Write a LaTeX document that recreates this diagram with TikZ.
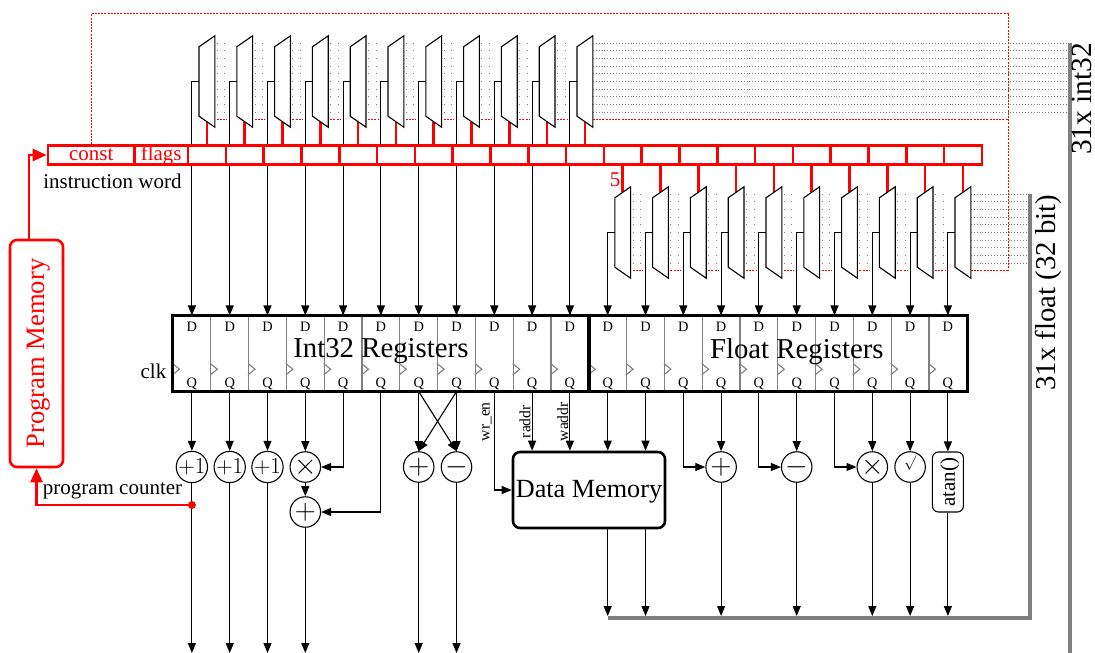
\documentclass[tikz,border=0pt]{standalone}
\usepackage{fontspec}
\usepackage{graphicx}
\setmainfont{Liberation Serif}
\usetikzlibrary{arrows.meta,fit}

\begin{document}
\begin{tikzpicture}[x=1pt,y=-1pt,
wire/.style={line width=1.1pt},
arr/.style={wire,-{Triangle[length=10pt,width=8pt]}},
redwire/.style={red,line width=2.6pt},
redarr/.style={redwire,-{Triangle[length=14pt,width=12pt]}},
reddot/.style={draw=red,line width=1.2pt,dash pattern=on 2pt off 1.2pt},
griddot/.style={black!50,line width=.9pt,dash pattern=on 1pt off 6.64pt},
griddotred/.style={griddot,red,dash pattern=on 2pt off 1.2pt},
rundot/.style={black!50,line width=.9pt,dash pattern=on 1pt off 1.9pt},
bar/.style={black!50,line width=4pt},
wordcell/.style={draw=red,fill=white,line width=2.6pt,minimum height=18.5pt,inner sep=0pt,font=\fontsize{21}{25}\selectfont,text=red},
regcell/.style={draw=black!50,line width=1.1pt,minimum width=37.8pt,minimum height=75pt,inner sep=0pt},
regbox/.style={draw,line width=2.8pt,inner sep=0pt},
muxbox/.style={minimum width=15.4pt,minimum height=91pt,inner sep=0pt},
muxline/.style={draw,fill=white,line width=1.1pt},
pinlab/.style={font=\fontsize{14.4}{16}\selectfont,inner sep=0pt},
biglab/.style={font=\fontsize{28.8}{32}\selectfont,inner sep=0pt},
lab/.style={font=\fontsize{21}{25}\selectfont,inner sep=0pt},
sigl/.style={font=\fontsize{15.6}{18}\selectfont,inner sep=0pt,rotate=90},
opc/.style={circle,draw,wire,fill=white,minimum size=30.5pt,inner sep=0pt,font=\fontsize{21}{25}\selectfont},
block/.style={draw,fill=white,rounded corners=7pt,line width=2.6pt,inner sep=0pt}]
\useasboundingbox (0,0) rectangle (1095,653);
\coordinate (opy) at (0,467);
\coordinate (outi) at (0,653);
\coordinate (outf) at (0,616);
\coordinate (intbar) at (1070,43);
\coordinate (fltbar) at (1030,194);
\coordinate (corner) at (1008.5,13.5);
% register cells and multiplexers
\foreach \i in {0,...,20} {
  \pgfmathsetmacro{\regx}{173+37.8*(\i+.5)}
  \pgfmathsetmacro{\muxx}{188+37.8*(\i+.5)}
  \pgfmathsetmacro{\muxy}{\i<11 ? 81.5 : 232.5}
  \node[regcell] (regc\i) at (\regx,353.5) {};
  \node[muxbox] (mux\i) at (\muxx,\muxy) {};
  \draw[arr] (mux\i.west) -| (regc\i.north);
  \node[pinlab] (d\i) at ([yshift=-11pt]regc\i.north) {D};
  \node[pinlab] (q\i) at ([yshift=8pt]regc\i.south) {Q};
  \draw[black!50,line width=1.1pt] ([yshift=-10pt]regc\i.west) -- ++(7,5.7) -- ++(-7,5.7);
}
\node[regbox,fit=(regc0)(regc10)] (intreg) {};
\node[regbox,fit=(regc11)(regc20)] (fltreg) {};
\node[biglab,yshift=2pt] (intlab) at (intreg.center) {Int32 Registers};
\node[biglab,yshift=2pt,xshift=19pt] (fltlab) at (fltreg.center) {Float Registers};
\node[lab] (clk) at (153.5,371) {clk};
% dotted buses
\foreach \k in {0,...,9} {
  \pgfmathsetmacro{\doty}{43.3+7.64*\k}
  \pgfmathsetmacro{\dotf}{194.3+7.64*\k}
  \draw[rundot] (mux10.east |- 0,\doty) -- (intbar |- 0,\doty);
  \draw[rundot] (mux20.east |- 0,\dotf) -- (fltbar |- 0,\dotf);
}
% instruction word
\node[wordcell,minimum width=86.5pt] (wconst) at (91.25,155) {const};
\node[wordcell,minimum width=53.5pt] (wflags) at (161.25,155) {flags};
\foreach \i in {0,...,20} {
  \pgfmathsetmacro{\muxx}{188+37.8*(\i+.5)}
  \node[wordcell,minimum width=37.8pt] (word\i) at (\muxx,155) {};
}
\foreach \i in {0,...,10} \draw[redwire] (word\i.north) -- ([yshift=5.5pt]mux\i.south);
\foreach \i in {11,...,20} \draw[redwire] (word\i.south) -- ([yshift=-5.5pt]mux\i.north);
\node[lab] (iword) at (112.5,181) {instruction word};
\node[lab,text=red] (five) at (615,180) {5};
\draw[reddot] (mux10.east |- 0,119.5) -- (corner |- 0,119.5);
\draw[reddot] (mux20.east |- 0,270.5) -- (corner |- 0,270.5);
\draw[reddot] (corner) -- (corner |- 0,270.5);
\draw[reddot] (wconst.north) |- (corner);
\foreach \i in {0,...,9,11,12,...,19} {
  \pgfmathsetmacro{\basey}{\i<11 ? 43.3 : 194.3}
  \foreach \k in {0,...,9} {
    \pgfmathsetmacro{\doty}{\basey+7.64*\k}
    \draw[griddot] ([xshift=2pt]mux\i.east |- 0,\doty) -- ++(10,0);
  }
  \pgfmathsetmacro{\doty}{\basey+76.4}
  \draw[griddotred] ([xshift=2pt]mux\i.east |- 0,\doty) -- ++(10,0);
}
\foreach \i in {0,...,20}
  \draw[muxline] (mux\i.north east) -- (mux\i.south east) -- ([yshift=11pt]mux\i.south west)
    -- ([yshift=-11pt]mux\i.north west) -- cycle;
% operators
\node[opc] (inca) at (regc0 |- opy) {\scalebox{1.1}{$+1$}};
\node[opc] (incb) at (regc1 |- opy) {\scalebox{1.1}{$+1$}};
\node[opc] (incc) at (regc2 |- opy) {\scalebox{1.1}{$+1$}};
\node[opc] (muli) at (regc3 |- opy) {\scalebox{1.4}{$\times$}};
\node[opc] (addm) at (regc3 |- 0,512) {\scalebox{1.4}{$+$}};
\node[opc] (addi) at (regc6 |- opy) {\scalebox{1.4}{$+$}};
\node[opc] (subi) at (regc7 |- opy) {\scalebox{1.4}{$-$}};
\node[opc] (addf) at (regc14 |- opy) {\scalebox{1.4}{$+$}};
\node[opc] (subf) at (regc16 |- opy) {\scalebox{1.4}{$-$}};
\node[opc] (mulf) at (regc18 |- opy) {\scalebox{1.4}{$\times$}};
\node[opc] (sqrf) at (regc19 |- opy) {\raisebox{0pt}[0pt][0pt]{\fontsize{15.6}{18}\selectfont$\surd$}};
\node[block,rounded corners=6pt,line width=1.1pt,minimum width=31pt,minimum height=60pt,font=\fontsize{21}{25}\selectfont] (atanf) at (regc20 |- 0,482) {\rotatebox{90}{\raisebox{0pt}[\dimexpr\height+4pt][\depth]{atan()}}};
\node[block,minimum width=152pt,minimum height=76pt,font=\fontsize{26.2}{30}\selectfont] (dmem) at (589,490) {\raisebox{0pt}[\dimexpr\height+4pt][\depth]{Data Memory}};
\node[block,draw=red,text=red,minimum width=53pt,minimum height=227pt,font=\fontsize{26.6}{30}\selectfont] (pm) at (36.5,353.5) {\rotatebox{90}{\raisebox{0pt}[\dimexpr\height+4pt][\depth]{Program Memory}}};
% register outputs
\draw[arr] (regc0.south) -- (inca);
\draw[arr] (regc1.south) -- (incb);
\draw[arr] (regc2.south) -- (incc);
\draw[arr] (regc3.south) -- (muli);
\draw[arr] (regc4.south) |- (muli);
\draw[arr] (regc5.south) |- (addm);
\draw[arr] (muli) -- (addm);
\draw[arr] (regc6.south) -- (addi);
\draw[arr] (regc7.south) -- (subi);
\draw[arr] (regc6.south) -- (subi.north);
\draw[arr] (regc7.south) -- (addi.north);
\draw[arr] (regc8.south) |- (dmem.west);
\draw[arr] (regc9.south) -- (regc9.south |- dmem.north);
\draw[arr] (regc10.south) -- (regc10.south |- dmem.north);
\draw[arr] (regc11.south) -- (regc11.south |- dmem.north);
\draw[arr] (regc12.south) -- (regc12.south |- dmem.north);
\draw[arr] (regc13.south) |- (addf);
\draw[arr] (regc14.south) -- (addf);
\draw[arr] (regc15.south) |- (subf);
\draw[arr] (regc16.south) -- (subf);
\draw[arr] (regc17.south) |- (mulf);
\draw[arr] (regc18.south) -- (mulf);
\draw[arr] (regc19.south) -- (sqrf);
\draw[arr] (regc20.south) -- (atanf);
\node[sigl] (wren) at (487,421.7) {wr\_en};
\node[sigl] (raddr) at (525,421.7) {raddr};
\node[sigl] (waddr) at (562.7,421.7) {waddr};
% results
\draw[bar] (intbar) -- (intbar |- outi);
\draw[bar] (fltbar) |- (regc11.south |- 0,618);
\foreach \src in {inca,incb,incc,addm,addi,subi}
  \draw[arr] (\src.south) -- (\src.south |- outi);
\foreach \src in {addf,subf,mulf,sqrf,atanf}
  \draw[arr] (\src.south) -- (\src.south |- outf);
\draw[arr] (regc11.south |- dmem.south) -- (regc11.south |- outf);
\draw[arr] (regc12.south |- dmem.south) -- (regc12.south |- outf);
\node[biglab,rotate=90,font=\fontsize{29.4}{32}\selectfont] (intout) at (1082,99) {31x int32};
\node[biglab,rotate=90] (fltout) at (1048,292.5) {31x float (32 bit)};
% program counter
\node[circle,fill=red,minimum size=8pt,inner sep=0pt] (pcdot) at (regc0 |- 0,505) {};
\draw[redarr] (pcdot) -| (pm.south);
\draw[redarr] ([xshift=-7.5pt]pm.north) |- (wconst.west);
\node[lab] (pclab) at (112.5,491) {program counter};
\end{tikzpicture}
\end{document}
